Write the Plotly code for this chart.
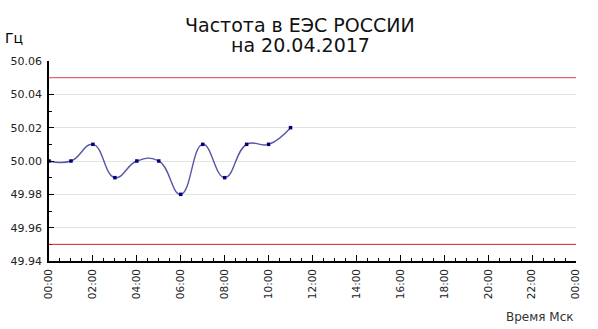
import plotly.graph_objects as go

hours = [0, 1, 2, 3, 4, 5, 6, 7, 8, 9, 10, 11]
freq = [50.00, 50.00, 50.01, 49.99, 50.00, 50.00, 49.98, 50.01, 49.99, 50.01, 50.01, 50.02]
upper_limit = 50.05
lower_limit = 49.95
x_tickvals = list(range(0, 25, 2))
x_ticktext = ["00:00", "02:00", "04:00", "06:00", "08:00", "10:00", "12:00",
              "14:00", "16:00", "18:00", "20:00", "22:00", "00:00"]
y_tickvals = [49.94, 49.96, 49.98, 50.00, 50.02, 50.04, 50.06]
title_lines = ["Частота в ЕЭС РОССИИ", "на 20.04.2017"]

fig = go.Figure()
fig.add_trace(go.Scatter(
    x=hours, y=freq, mode="lines+markers",
    line=dict(color="#5656a6", width=1.4, shape="spline", smoothing=1.3),
    marker=dict(symbol="square", size=3.5, color="#000080", line=dict(width=0)),
    showlegend=False, hoverinfo="skip"))

fig.add_hline(y=upper_limit, line=dict(color="#d96a72", width=1.2))
fig.add_hline(y=lower_limit, line=dict(color="#cc2222", width=1))

fig.update_layout(
    width=598, height=329,
    margin=dict(l=49, r=22, t=61, b=68),
    paper_bgcolor="white", plot_bgcolor="white",
    font=dict(family="DejaVu Sans, Verdana, sans-serif", color="black"),
)
fig.update_xaxes(
    range=[0, 24], tickvals=x_tickvals, ticktext=x_ticktext, tickangle=-90,
    ticks="inside", ticklen=6, tickcolor="black", showgrid=False,
    showline=True, linecolor="black", linewidth=1.5, zeroline=False,
    tickfont=dict(size=10.5, family="DejaVu Sans", color="#222222"),
    ticklabelstandoff=2,
    minor=dict(dtick=0.5, tick0=0, ticks="inside", ticklen=3, tickcolor="black", showgrid=False),
)
fig.update_yaxes(
    range=[49.94, 50.06], tickvals=y_tickvals, tickformat=".2f",
    ticks="inside", ticklen=5, tickcolor="black",
    showgrid=True, gridcolor="#e3e3e3", gridwidth=1,
    showline=True, linecolor="black", linewidth=1.5, zeroline=False,
    tickfont=dict(size=11, family="DejaVu Sans", color="#222222"),
    ticklabelstandoff=3,
    minor=dict(dtick=0.01, tick0=49.94, ticks="inside", ticklen=3, tickcolor="black", showgrid=False),
)
for i, line in enumerate(title_lines):
    fig.add_annotation(text=line, xref="paper", yref="paper", x=(300 - 49) / 527,
                       y=1 + (36 - i * 20) / 200, xanchor="center", yanchor="middle",
                       showarrow=False,
                       font=dict(size=19, family="DejaVu Sans", color="#111111"))
fig.add_annotation(text="Гц", xref="paper", yref="paper", x=-46/527, y=1 + 23/200,
                   xanchor="left", yanchor="middle", showarrow=False,
                   font=dict(size=14, family="DejaVu Sans", color="black"))
fig.add_annotation(text="Время Мск", xref="paper", yref="paper", x=1, y=-56/200,
                   xanchor="right", yanchor="middle", showarrow=False,
                   font=dict(size=12, family="DejaVu Sans", color="#333333"))

fig.write_html("out.html")
